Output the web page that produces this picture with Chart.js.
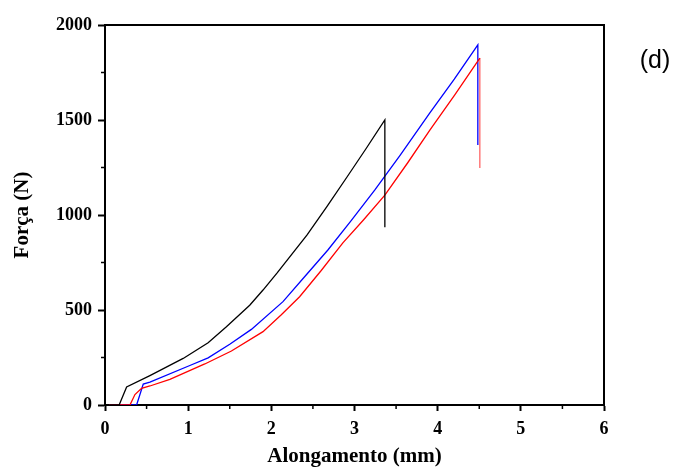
<!DOCTYPE html>
<html lang="pt">

<head>
  <meta charset="UTF-8">
  <title>Força x Alongamento (d)</title>
  <script src="https://cdn.jsdelivr.net/npm/chart.js"></script>
  <style>
    html, body { margin: 0; padding: 0; background: #fff; }
  </style>
</head>

<body>
  <canvas id="myChart" width="677" height="473"></canvas>

  <script>
    // curves: elongation (mm) and force (N)
    const blackX = [0.05, 0.17, 0.26, 0.54, 0.94, 1.24, 1.46, 1.74, 1.90, 2.07, 2.43, 2.67, 2.91, 3.14, 3.365, 3.365]
    const blackY = [0, 0, 95, 155, 245, 328, 412, 525, 605, 695, 895, 1045, 1200, 1350, 1500, 935]

    const blueX = [0.05, 0.38, 0.46, 0.54, 1.02, 1.24, 1.50, 1.76, 2.14, 2.40, 2.68, 2.96, 3.245, 3.55, 3.906, 4.20, 4.483, 4.483]
    const blueY = [0, 0, 110, 120, 208, 248, 320, 398, 544, 675, 816, 970, 1132, 1315, 1538, 1715, 1895, 1368]

    const redX = [0.05, 0.30, 0.36, 0.44, 0.54, 0.78, 1.20, 1.52, 1.90, 2.12, 2.34, 2.60, 2.86, 3.11, 3.365, 3.64, 3.906, 4.21, 4.507, 4.507]
    const redY = [0, 0, 55, 88, 100, 135, 216, 284, 386, 475, 570, 708, 853, 975, 1105, 1275, 1447, 1635, 1826, 1247]

    const xMinor = [0.5, 1.5, 2.5, 3.5, 4.5, 5.5]
    const yMinor = [250, 750, 1250, 1750]

    function toPoints(xs, ys) {
      return xs.map((v, i) => ({ x: v, y: ys[i] }))
    }

    const serif = "'Liberation Serif', 'Times New Roman', serif"

    // top/right frame, minor ticks and the panel letter
    const frameAndMinor = {
      id: 'frameAndMinor',
      afterDraw(chart) {
        const { ctx, chartArea: a, scales: { x, y } } = chart
        ctx.save()
        ctx.strokeStyle = '#000'
        ctx.lineWidth = 2
        ctx.beginPath()
        ctx.moveTo(a.left, a.top)
        ctx.lineTo(a.right, a.top)
        ctx.lineTo(a.right, a.bottom)
        ctx.stroke()

        ctx.lineWidth = 1.5
        ctx.beginPath()
        xMinor.forEach(v => {
          const px = x.getPixelForValue(v)
          ctx.moveTo(px, a.bottom)
          ctx.lineTo(px, a.bottom + 4)
        })
        yMinor.forEach(v => {
          const py = y.getPixelForValue(v)
          ctx.moveTo(a.left, py)
          ctx.lineTo(a.left - 4, py)
        })
        ctx.stroke()

        ctx.fillStyle = '#000'
        ctx.font = "25px 'Liberation Sans', Arial, sans-serif"
        ctx.textAlign = 'center'
        ctx.textBaseline = 'middle'
        ctx.fillText('(d)', 655, 61)
        ctx.restore()
      }
    }

    const lineStyle = {
      showLine: true,
      pointRadius: 0,
      borderWidth: 1.3,
      tension: 0,
      fill: false
    }

    new Chart(document.getElementById('myChart'), {
      type: 'scatter',
      data: {
        datasets: [
          { ...lineStyle, label: 'black', data: toPoints(blackX, blackY), borderColor: '#000000' },
          { ...lineStyle, label: 'red', data: toPoints(redX, redY), borderColor: '#ff0000',
            segment: { borderColor: c => c.p0.parsed.x === c.p1.parsed.x ? 'rgba(255,0,0,0.6)' : undefined } },
          { ...lineStyle, label: 'blue', data: toPoints(blueX, blueY), borderColor: '#0000ff' }
        ]
      },
      options: {
        responsive: false,
        animation: false,
        events: [],
        layout: { padding: { top: 25, right: 73, left: 0, bottom: 0 } },
        plugins: {
          legend: { display: false },
          tooltip: { enabled: false },
          title: { display: false }
        },
        scales: {
          x: {
            type: 'linear',
            min: 0,
            max: 6,
            afterFit: s => { s.height = 68 },
            grid: { drawOnChartArea: false, drawTicks: true, tickLength: 6, tickWidth: 2, tickColor: '#000' },
            border: { display: true, color: '#000', width: 2 },
            ticks: {
              stepSize: 1,
              autoSkip: false,
              maxRotation: 0,
              padding: 8,
              color: '#000',
              callback: v => String(v),
              font: { family: serif, size: 18, weight: 'bold' }
            },
            title: {
              display: true,
              text: 'Alongamento (mm)',
              color: '#000',
              padding: { top: 0, bottom: 4 },
              font: { family: serif, size: 21, weight: 'bold' }
            }
          },
          y: {
            type: 'linear',
            min: 0,
            max: 2000,
            afterFit: s => { s.width = 105 },
            grid: { drawOnChartArea: false, drawTicks: true, tickLength: 7, tickWidth: 2, tickColor: '#000' },
            border: { display: true, color: '#000', width: 2 },
            ticks: {
              stepSize: 500,
              autoSkip: false,
              padding: 6,
              color: '#000',
              callback: v => String(v),
              font: { family: serif, size: 18, weight: 'bold' }
            },
            title: {
              display: true,
              text: 'Força (N)',
              color: '#000',
              padding: { top: 10, bottom: 0 },
              font: { family: serif, size: 21, weight: 'bold' }
            }
          }
        }
      },
      plugins: [frameAndMinor]
    })
  </script>
</body>

</html>
